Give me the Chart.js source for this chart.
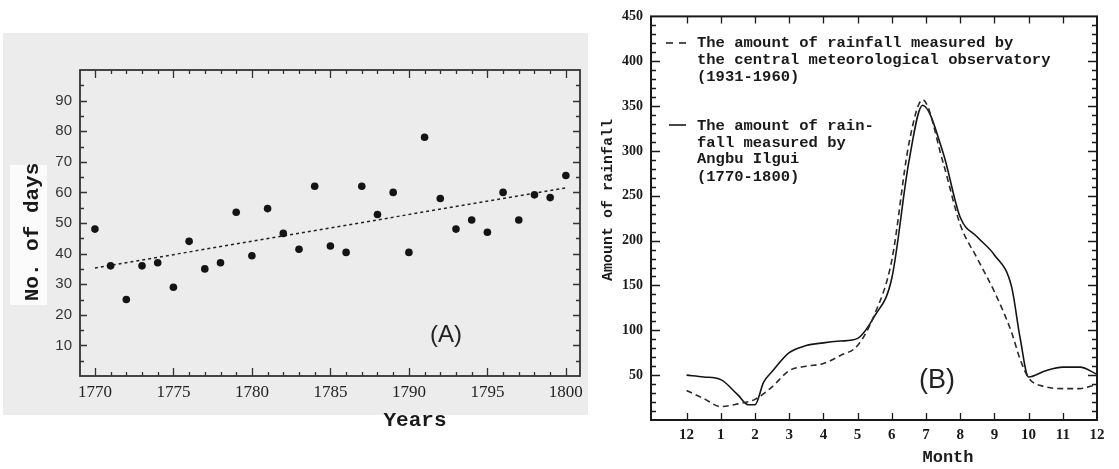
<!DOCTYPE html>
<html lang="en">
<head>
  <meta charset="UTF-8" />
  <title>Rainy days and monthly rainfall</title>
  <script src="https://cdn.jsdelivr.net/npm/chart.js"></script>
  <style>
    html, body { margin: 0; padding: 0; background: #fff; }
    body { width: 1119px; height: 469px; position: relative; overflow: hidden; }
    #boxA { position: absolute; left: 0; top: 0; width: 590px; height: 469px; }
    #boxB { position: absolute; left: 590px; top: 0; width: 529px; height: 469px; }
  </style>
</head>
<body>
  <div id="boxA"><canvas id="chartA" width="590" height="469"></canvas></div>
  <div id="boxB"><canvas id="chartB" width="529" height="469"></canvas></div>

  <script>
    // (A) number of days per year
    const years = [1770, 1771, 1772, 1773, 1774, 1775, 1776, 1777, 1778, 1779, 1780,
                   1781, 1782, 1783, 1784, 1785, 1786, 1787, 1788, 1789, 1790,
                   1791, 1792, 1793, 1794, 1795, 1796, 1797, 1798, 1799, 1800];
    const days = [48, 36, 25, 36, 37, 29, 44, 35, 37, 53.5, 39.3,
                  54.7, 46.6, 41.4, 62, 42.5, 40.4, 62, 52.8, 60, 40.4,
                  78, 58, 48, 51, 47, 60, 51, 59.2, 58.3, 65.5];
    const trendYears = [1770, 1800];
    const trendDays = [35.3, 61.5];

    // (B) monthly rainfall, month position 0 = December of previous year
    const monthLabels = ['12', '1', '2', '3', '4', '5', '6', '7', '8', '9', '10', '11', '12'];
    const angbuMonths = [0, 0.5, 1, 1.5, 1.8, 2, 2.25, 2.5, 3, 3.5, 4, 4.5, 5, 5.5, 6, 6.5, 6.9,
                         7.5, 8, 8.5, 9, 9.5, 9.75, 10, 10.5, 11, 11.5, 12];
    const angbuRain = [50, 48, 45, 28, 17, 17, 42, 54, 75, 83, 86, 88, 91, 116, 158, 288, 351,
                       298, 226, 204, 184, 149, 92, 48, 55, 59, 59, 51];
    const observMonths = [0, 0.5, 1, 1.5, 2, 2.5, 3, 3.5, 4, 4.5, 5, 5.5, 6, 6.5, 6.9,
                          7.5, 8, 8.5, 9, 9.5, 9.75, 10, 10.5, 11, 11.5, 12];
    const observRain = [33, 24, 15, 18, 23, 37, 55, 60, 63, 72, 83, 118, 178, 308, 357,
                        287, 218, 180, 143, 98, 68, 47, 37, 35, 35, 40];

    const pairs = (xs, ys) => xs.map((x, i) => ({ x, y: ys[i] }));
    const range = (a, b, s) => { const r = []; for (let v = a; v <= b + 1e-9; v += s) r.push(v); return r; };

    // box round the plot, with ticks pointing inward
    const frameTicks = {
      id: 'frameTicks',
      afterDatasetsDraw(chart, args, o) {
        const { ctx, chartArea: a, scales: { x, y } } = chart;
        ctx.save();
        ctx.strokeStyle = o.color;
        ctx.lineWidth = o.tickWidth;
        ctx.beginPath();
        o.xTicks.forEach(v => {
          const px = Math.round(x.getPixelForValue(v)) + 0.5;
          const len = Math.abs(v % o.xMajor) < 1e-9 ? o.xMajorLen : o.xMinorLen;
          ctx.moveTo(px, a.bottom); ctx.lineTo(px, a.bottom - len);
          ctx.moveTo(px, a.top); ctx.lineTo(px, a.top + len);
        });
        o.yTicks.forEach(v => {
          const py = Math.round(y.getPixelForValue(v)) + 0.5;
          const len = Math.abs(v % o.yMajor) < 1e-9 ? o.yMajorLen : o.yMinorLen;
          ctx.moveTo(a.left, py); ctx.lineTo(a.left + len, py);
          ctx.moveTo(a.right, py); ctx.lineTo(a.right - len, py);
        });
        ctx.stroke();
        ctx.lineWidth = o.frameWidth;
        ctx.strokeRect(a.left, a.top, a.width, a.height);
        ctx.restore();
      }
    };

    // free texts, legend marks and background patches
    const notes = {
      id: 'notes',
      beforeDraw(chart, args, o) {
        const ctx = chart.ctx;
        ctx.save();
        (o.rects || []).forEach(r => {
          ctx.fillStyle = r.color;
          ctx.fillRect(r.x, r.y, r.w, r.h);
        });
        ctx.restore();
      },
      afterDraw(chart, args, o) {
        const ctx = chart.ctx;
        ctx.save();
        (o.marks || []).forEach(m => {
          ctx.beginPath();
          ctx.strokeStyle = '#1a1a1a';
          ctx.lineWidth = 1.6;
          ctx.setLineDash(m.dash || []);
          ctx.moveTo(m.x1, m.y); ctx.lineTo(m.x2, m.y);
          ctx.stroke();
        });
        ctx.setLineDash([]);
        (o.texts || []).forEach(t => {
          ctx.save();
          ctx.font = t.font;
          ctx.fillStyle = t.color || '#1a1a1a';
          ctx.textAlign = t.align || 'center';
          ctx.textBaseline = 'middle';
          ctx.translate(t.x, t.y);
          if (t.rotate) ctx.rotate(t.rotate);
          ctx.fillText(t.text, 0, 0);
          ctx.restore();
        });
        ctx.restore();
      }
    };

    const monoBold = (s) => `bold ${s}px "Liberation Mono", "DejaVu Sans Mono", monospace`;

    new Chart(document.getElementById('chartA'), {
      type: 'scatter',
      data: {
        datasets: [
          {
            data: pairs(years, days),
            pointRadius: 3.8,
            pointBackgroundColor: '#141414',
            pointBorderWidth: 0
          },
          {
            data: pairs(trendYears, trendDays),
            showLine: true,
            pointRadius: 0,
            borderColor: '#222',
            borderWidth: 1.5,
            borderDash: [3, 3]
          }
        ]
      },
      options: {
        responsive: false,
        animation: false,
        layout: { padding: { left: 0, right: 10, top: 70, bottom: 0 } },
        plugins: {
          legend: { display: false },
          tooltip: { enabled: false },
          frameTicks: {
            color: '#333', tickWidth: 1.3, frameWidth: 1.8,
            xTicks: range(1770, 1800, 1), xMajor: 5, xMajorLen: 8, xMinorLen: 4,
            yTicks: range(5, 95, 5), yMajor: 10, yMajorLen: 7, yMinorLen: 4
          },
          notes: {
            rects: [
              { x: 3, y: 33, w: 585, h: 382, color: '#ececec' },
              { x: 10, y: 165, w: 37, h: 140, color: '#fbfbfb' }
            ],
            texts: [
              { text: 'No. of days', x: 33, y: 232, rotate: -Math.PI / 2, font: monoBold(21) },
              { text: 'Years', x: 415, y: 421, font: monoBold(21) },
              { text: '(A)', x: 446, y: 335, font: '24px "Liberation Sans", Arial, sans-serif', color: '#222' }
            ]
          }
        },
        scales: {
          x: {
            type: 'linear',
            min: 1769.05,
            max: 1800.9,
            afterFit: s => { s.height = 93; },
            grid: { display: false, drawTicks: false },
            border: { display: false },
            ticks: {
              stepSize: 5,
              includeBounds: false,
              padding: 6,
              color: '#222',
              font: { family: '"Liberation Serif", "Times New Roman", serif', size: 17 },
              callback: v => String(v)
            }
          },
          y: {
            min: 0,
            max: 100,
            afterFit: s => { s.width = 80; },
            grid: { display: false, drawTicks: false },
            border: { display: false },
            ticks: {
              stepSize: 10,
              padding: 8,
              color: '#333',
              font: { family: '"Liberation Sans", Arial, sans-serif', size: 15 },
              callback: v => (v > 0 && v < 100) ? String(v) : ''
            }
          }
        }
      },
      plugins: [notes, frameTicks]
    });

    new Chart(document.getElementById('chartB'), {
      type: 'line',
      data: {
        datasets: [
          {
            label: 'Central meteorological observatory (1931-1960)',
            data: pairs(observMonths, observRain),
            borderColor: '#2a2a2a',
            borderWidth: 1.6,
            borderDash: [6, 4],
            pointRadius: 0,
            cubicInterpolationMode: 'monotone'
          },
          {
            label: 'Angbu Ilgui (1770-1800)',
            data: pairs(angbuMonths, angbuRain),
            borderColor: '#141414',
            borderWidth: 1.6,
            pointRadius: 0,
            cubicInterpolationMode: 'monotone'
          }
        ]
      },
      options: {
        responsive: false,
        animation: false,
        layout: { padding: { left: 0, right: 22, top: 12, bottom: 0 } },
        plugins: {
          legend: { display: false },
          tooltip: { enabled: false },
          frameTicks: {
            color: '#1a1a1a', tickWidth: 1.3, frameWidth: 2,
            xTicks: range(0, 11, 1), xMajor: 1, xMajorLen: 7, xMinorLen: 7,
            yTicks: range(10, 440, 10), yMajor: 50, yMajorLen: 9, yMinorLen: 5
          },
          notes: {
            marks: [
              { x1: 76, x2: 98, y: 43, dash: [7, 6] },
              { x1: 79, x2: 96, y: 125 }
            ],
            texts: [
              { text: 'The amount of rainfall measured by', x: 107, y: 43, align: 'left', font: monoBold(15.5) },
              { text: 'the central meteorological observatory', x: 107, y: 60, align: 'left', font: monoBold(15.5) },
              { text: '(1931-1960)', x: 107, y: 77, align: 'left', font: monoBold(15.5) },
              { text: 'The amount of rain-', x: 107, y: 126, align: 'left', font: monoBold(15.5) },
              { text: 'fall measured by', x: 107, y: 143, align: 'left', font: monoBold(15.5) },
              { text: 'Angbu Ilgui', x: 107, y: 159, align: 'left', font: monoBold(15.5) },
              { text: '(1770-1800)', x: 107, y: 177, align: 'left', font: monoBold(15.5) },
              { text: 'Amount of rainfall', x: 18, y: 200, rotate: -Math.PI / 2, font: monoBold(15) },
              { text: 'Month', x: 358, y: 458, font: monoBold(17) },
              { text: '(B)', x: 347, y: 381, font: '27px "Liberation Sans", Arial, sans-serif', color: '#222' }
            ]
          }
        },
        scales: {
          x: {
            type: 'linear',
            min: -1.04,
            max: 12,
            afterFit: s => { s.height = 49; },
            grid: { display: false, drawTicks: false },
            border: { display: false },
            ticks: {
              stepSize: 1,
              includeBounds: false,
              padding: 6,
              color: '#1a1a1a',
              font: { family: '"Liberation Serif", "Times New Roman", serif', size: 15, weight: 'bold' },
              callback: v => (v >= 0 && Number.isInteger(v)) ? monthLabels[v] : ''
            }
          },
          y: {
            min: 0,
            max: 450,
            afterFit: s => { s.width = 61; },
            grid: { display: false, drawTicks: false },
            border: { display: false },
            ticks: {
              stepSize: 50,
              padding: 8,
              color: '#1a1a1a',
              font: { family: '"Liberation Serif", "Times New Roman", serif', size: 14, weight: 'bold' },
              callback: v => v > 0 ? String(v) : ''
            }
          }
        }
      },
      plugins: [notes, frameTicks]
    });
  </script>
</body>
</html>
